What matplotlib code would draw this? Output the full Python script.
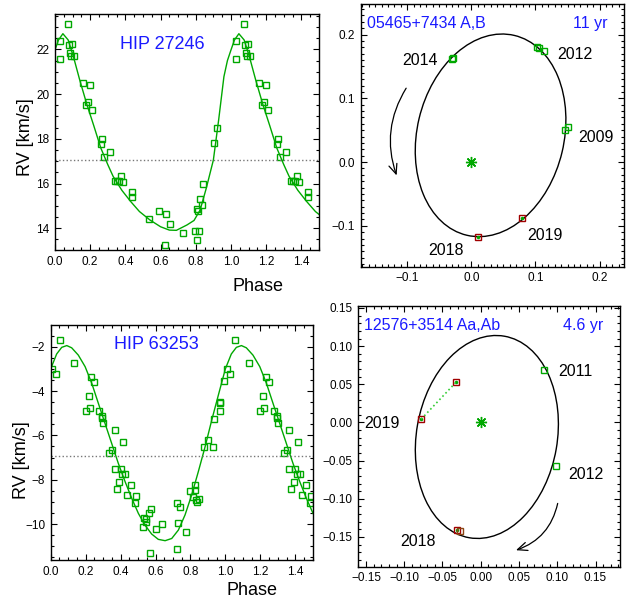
import numpy as np
import matplotlib
matplotlib.use('Agg')
import matplotlib.pyplot as plt
from matplotlib.patches import Ellipse, FancyArrowPatch
from matplotlib.ticker import MultipleLocator

plt.rcParams['font.family'] = ['Liberation Sans', 'DejaVu Sans']

GREEN = '#00a800'
BLUE = '#1a1aff'
RED = '#a00000'

# --- HIP 27246 radial velocities (phase, km/s) ---
hip1_phase = [0.03, 0.03, 0.076, 0.08, 0.097, 0.085, 0.089, 0.11, 0.16, 0.20,
              0.176, 0.19, 0.21, 0.27, 0.26, 0.277, 0.31, 0.343, 0.354, 0.366,
              0.377, 0.388, 0.44, 0.44, 0.534, 0.589, 0.631, 0.653, 0.623, 0.729,
              0.795, 0.82, 0.805, 0.805, 0.814, 0.824, 0.835, 0.839, 0.905, 0.919]
hip1_rv = [22.37, 21.55, 23.12, 22.19, 22.25, 21.85, 21.70, 21.70, 20.51, 20.40,
           19.51, 19.64, 19.27, 17.98, 17.77, 17.20, 17.40, 16.12, 16.12, 16.12,
           16.36, 16.09, 15.61, 15.39, 14.42, 14.78, 14.64, 14.20, 13.25, 13.80,
           13.90, 13.90, 13.46, 14.86, 14.77, 15.33, 15.03, 15.97, 17.83, 18.50]
# fitted curve
hip1_fit_phase = [0.0, 0.02, 0.045, 0.075, 0.105, 0.14, 0.18, 0.22, 0.26, 0.30,
                  0.33, 0.38, 0.43, 0.48, 0.54, 0.60, 0.65, 0.69, 0.75, 0.79,
                  0.825, 0.86, 0.90, 0.93, 0.96, 0.98]
hip1_fit_rv = [21.97, 22.42, 22.70, 22.42, 21.67, 20.65, 19.57, 18.60, 17.60, 16.85,
               16.33, 15.70, 15.20, 14.75, 14.37, 14.07, 13.92, 13.91, 14.15, 14.35,
               14.82, 15.80, 17.05, 18.84, 20.78, 21.50]
hip1_gamma = 17.06

# --- HIP 63253 radial velocities ---
hip2_phase = [0.009, 0.028, 0.053, 0.133, 0.231, 0.248, 0.217, 0.223, 0.200, 0.277,
              0.296, 0.296, 0.300, 0.366, 0.414, 0.353, 0.336, 0.366, 0.401, 0.410,
              0.427, 0.391, 0.378, 0.460, 0.437, 0.488, 0.483, 0.574, 0.561, 0.532,
              0.545, 0.546, 0.527, 0.636, 0.603, 0.569, 0.729, 0.721, 0.740, 0.723,
              0.775, 0.800, 0.826, 0.828, 0.813, 0.830, 0.836, 0.849, 0.878, 0.899,
              0.929, 0.935, 0.967, 0.969, 0.971, 0.990]
hip2_rv = [-3.02, -3.25, -1.70, -2.72, -3.35, -3.61, -4.21, -4.78, -4.90, -4.90,
           -5.11, -5.23, -5.46, -5.77, -6.30, -6.65, -6.81, -7.52, -7.52, -7.74,
           -7.74, -8.12, -8.44, -8.26, -8.69, -8.72, -9.04, -9.31, -9.52, -9.74,
           -9.77, -9.90, -10.15, -10.00, -10.23, -11.30, -9.94, -9.07, -9.25, -11.13,
           -10.35, -8.51, -8.23, -8.47, -8.80, -8.92, -9.02, -8.87, -6.51, -6.21,
           -6.51, -5.28, -4.89, -4.56, -4.48, -3.53]
hip2_fit_phase = [0.0, 0.034, 0.063, 0.092, 0.12, 0.158, 0.197, 0.235, 0.273, 0.311,
                  0.349, 0.387, 0.426, 0.464, 0.502, 0.54, 0.578, 0.616, 0.655, 0.693,
                  0.731, 0.769, 0.807, 0.845, 0.884, 0.922, 0.96]
hip2_fit_rv = [-3.0, -2.33, -2.03, -1.95, -2.05, -2.38, -2.90, -3.65, -4.56, -5.46,
               -6.36, -7.26, -8.09, -8.84, -9.52, -10.05, -10.45, -10.69, -10.75, -10.65,
               -10.27, -9.59, -8.69, -7.64, -6.51, -5.31, -4.18]
hip2_gamma = -6.92

# --- orbit 05465+7434 A,B ---
orb1_x = [-0.030, -0.029, 0.103, 0.105, 0.114, 0.1456, 0.150]
orb1_y = [0.162, 0.163, 0.180, 0.179, 0.175, 0.0507, 0.0548]
orb1_red_x = [0.0785, 0.0104]
orb1_red_y = [-0.0883, -0.117]
orb1_ell = dict(xy=(0.030, 0.042), width=0.229, height=0.322, angle=-13.3)
orb1_years = ['2014', '2012', '2009', '2019', '2018']
orb1_year_x = [-0.080, 0.162, 0.194, 0.114, -0.0395]
orb1_year_y = [0.160, 0.169, 0.0386, -0.115, -0.138]

# --- orbit 12576+3514 Aa,Ab ---
orb2_x = [0.0826, 0.0983]
orb2_y = [0.0686, -0.0572]
orb2_red_x = [-0.0778, -0.0326, -0.0313]
orb2_red_y = [0.0044, 0.0524, -0.1403]
orb2_brown_x = [-0.027]
orb2_brown_y = [-0.1425]
orb2_ell = dict(xy=(0.008, -0.019), width=0.184, height=0.268, angle=-9.85)
orb2_years = ['2011', '2012', '2019', '2018']
orb2_year_x = [0.124, 0.138, -0.129, -0.0826]
orb2_year_y = [0.0669, -0.068, -0.0013, -0.156]


def style_axes(ax, xmaj, xmin, ymaj, ymin):
    ax.xaxis.set_major_locator(MultipleLocator(xmaj))
    ax.xaxis.set_minor_locator(MultipleLocator(xmin))
    ax.yaxis.set_major_locator(MultipleLocator(ymaj))
    ax.yaxis.set_minor_locator(MultipleLocator(ymin))
    ax.tick_params(which='both', direction='in', top=True, right=True,
                   labelsize=8.5, width=0.8)
    ax.tick_params(which='major', length=4, pad=4)
    ax.tick_params(which='minor', length=2)
    for s in ax.spines.values():
        s.set_linewidth(1.0)


def rv_panel(ax, phase, rv, fit_phase, fit_rv, gamma, ylim, name, name_y):
    ph = np.array(phase)
    v = np.array(rv)
    sel = ph <= 0.5
    ax.plot(np.concatenate([ph, ph[sel] + 1]), np.concatenate([v, v[sel]]),
            ls='none', marker='s', ms=4.2, mfc='none', mec=GREEN, mew=1.0)
    fp = np.array(fit_phase)
    fv = np.array(fit_rv)
    cp = np.concatenate([fp, fp + 1])
    cv = np.concatenate([fv, fv])
    ax.plot(cp, cv, color=GREEN, lw=1.0)
    ax.axhline(gamma, color='#777777', ls=':', lw=1.0)
    ax.set_xlim(0, 1.5)
    ax.set_ylim(*ylim)
    style_axes(ax, 0.2, 0.05, 2, 0.5)
    ax.text(0.405, name_y, name, transform=ax.transAxes, color=BLUE,
            fontsize=13, ha='center', va='center')


def orbit_panel(ax, ell, gx, gy, rx, ry, years, yx, yy, title, period,
                xlim, ylim, maj, arrow, rad):
    ax.add_patch(Ellipse(fill=False, ec='black', lw=1.0, **ell))
    ax.plot(gx, gy, ls='none', marker='s', ms=4.2, mfc='none', mec=GREEN, mew=1.0)
    ax.plot(rx, ry, ls='none', marker='s', ms=4.2, mfc='none', mec=RED, mew=1.0)
    ax.plot(rx, ry, ls='none', marker='.', ms=3, color=GREEN)
    ax.plot([0], [0], ls='none', marker=(8, 2, 0), ms=8, color=GREEN, mew=1.0)
    for t, x, y in zip(years, yx, yy):
        ax.text(x, y, t, fontsize=11.5, ha='center', va='center')
    ax.add_patch(FancyArrowPatch(arrow[0], arrow[1],
                                 connectionstyle='arc3,rad=%s' % rad,
                                 arrowstyle='->,head_length=7,head_width=3',
                                 lw=0.9, color='black'))
    ax.text(0.023, 0.924, title, transform=ax.transAxes, color=BLUE,
            fontsize=11.5, ha='left', va='center')
    ax.text(0.937, 0.924, period, transform=ax.transAxes, color=BLUE,
            fontsize=11.5, ha='right', va='center')
    ax.set_xlim(*xlim)
    ax.set_ylim(*ylim)
    style_axes(ax, maj, 0.01, maj, 0.01)


fig = plt.figure(figsize=(6.37, 6.02), dpi=100)

ax1 = fig.add_axes([0.0863, 0.5847, 0.4144, 0.392])
rv_panel(ax1, hip1_phase, hip1_rv, hip1_fit_phase, hip1_fit_rv, hip1_gamma,
         (13.03, 23.58), 'HIP 27246', 0.869)
ax1.text(0.769, -0.153, 'Phase', transform=ax1.transAxes, fontsize=13,
         ha='center', va='center')
ax1.text(-0.11, 0.479, 'RV [km/s]', transform=ax1.transAxes, fontsize=13,
         ha='center', va='center', rotation=90)

ax3 = fig.add_axes([0.0796, 0.0698, 0.4113, 0.3904])
rv_panel(ax3, hip2_phase, hip2_rv, hip2_fit_phase, hip2_fit_rv, hip2_gamma,
         (-11.62, -1.02), 'HIP 63253', 0.915)
ax3.text(0.769, -0.131, 'Phase', transform=ax3.transAxes, fontsize=13,
         ha='center', va='center')
ax3.text(-0.111, 0.426, 'RV [km/s]', transform=ax3.transAxes, fontsize=13,
         ha='center', va='center', rotation=90)

ax2 = fig.add_axes([0.5662, 0.5570, 0.4134, 0.4364])
orbit_panel(ax2, orb1_ell, orb1_x, orb1_y, orb1_red_x, orb1_red_y,
            orb1_years, orb1_year_x, orb1_year_y, '05465+7434 A,B', '11 yr',
            (-0.1725, 0.238), (-0.164, 0.248), 0.1,
            ((-0.0993, 0.1196), (-0.115, -0.025)), 0.25)

ax4 = fig.add_axes([0.5625, 0.0586, 0.4108, 0.4336])
orbit_panel(ax4, orb2_ell, orb2_x, orb2_y, orb2_red_x, orb2_red_y,
            orb2_years, orb2_year_x, orb2_year_y, '12576+3514 Aa,Ab', '4.6 yr',
            (-0.160, 0.182), (-0.189, 0.153), 0.05,
            ((0.1013, -0.1025), (0.0426, -0.1685)), -0.3)
ax4.plot(orb2_brown_x, orb2_brown_y, ls='none', marker='s', ms=4.2, mfc='none',
         mec='#8b4513', mew=1.0)
ax4.plot(orb2_red_x[:2], orb2_red_y[:2], ls=':', color='#33cc33', lw=1.2)

fig.savefig('out.png', dpi=100)
